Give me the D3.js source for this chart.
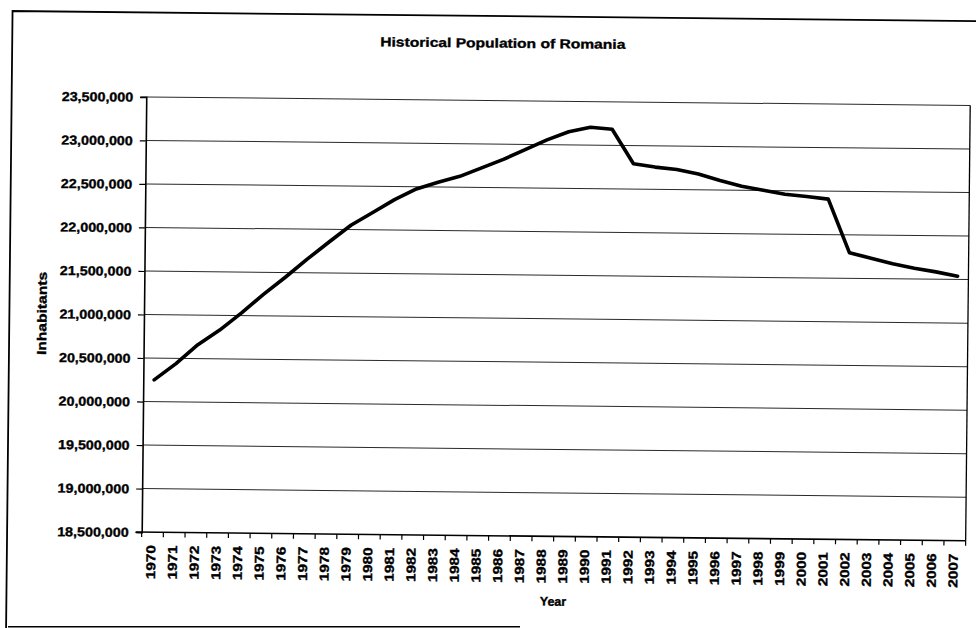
<!DOCTYPE html>
<html>
<head>
<meta charset="utf-8">
<title>Historical Population of Romania</title>
<script src="https://cdn.jsdelivr.net/npm/d3@7"></script>
<style>
  html, body { margin: 0; padding: 0; background: #fff; }
  svg { display: block; }
  text { font-family: "Liberation Sans", Arial, Helvetica, sans-serif; font-weight: bold; fill: #000; stroke: #000; stroke-width: 0.35px; }
</style>
</head>
<body>
<script>
// Category labels (years) along the x axis
const years = [
  "1970","1971","1972","1973","1974","1975","1976","1977","1978","1979",
  "1980","1981","1982","1983","1984","1985","1986","1987","1988","1989",
  "1990","1991","1992","1993","1994","1995","1996","1997","1998","1999",
  "2000","2001","2002","2003","2004","2005","2006","2007"
];

// Inhabitants per year
const population = [
  20250000, 20440000, 20660000, 20830000, 21030000, 21245000, 21445000, 21655000, 21855000, 22050000,
  22200000, 22350000, 22475000, 22555000, 22625000, 22725000, 22825000, 22940000, 23055000, 23150000,
  23205000, 23185000, 22790000, 22755000, 22730000, 22680000, 22608000, 22546000, 22503000, 22458000,
  22435000, 22408000, 21795000, 21735000, 21673000, 21624000, 21585000, 21538000
];

// Value-axis ticks
const yTicks = [18500000, 19000000, 19500000, 20000000, 20500000, 21000000, 21500000, 22000000, 22500000, 23000000, 23500000];

const chartTitle = "Historical Population of Romania";
const yTitle = "Inhabitants";
const xTitle = "Year";

const W = 976, H = 628;
const plot = { left: 144, right: 968, top: 100.5, bottom: 535.7 };

const svg = d3.select("body").append("svg")
  .attr("width", W).attr("height", H);

svg.append("rect").attr("width", W).attr("height", H).attr("fill", "#fff");

// The sheet sits slightly skewed on the page
const g = svg.append("g").attr("transform", "rotate(0.6, 488, 314)");

// Chart-area frame (left and top edges; the rest runs off the page)
g.append("path")
  .attr("d", `M9.4,700 L9.4,16 L1100,16`)
  .attr("fill", "none").attr("stroke", "#000").attr("stroke-width", 1.8);
svg.append("line")
  .attr("x1", 8).attr("x2", 520).attr("y1", 626.8).attr("y2", 626.8)
  .attr("stroke", "#000").attr("stroke-width", 1.6);

const x = d3.scaleBand().domain(years).range([plot.left, plot.right]).padding(0);
const y = d3.scaleLinear().domain([18500000, 23500000]).range([plot.bottom, plot.top]);

// Horizontal gridlines
g.append("g").selectAll("line")
  .data(yTicks.slice(1))
  .join("line")
  .attr("x1", plot.left).attr("x2", plot.right)
  .attr("y1", d => y(d)).attr("y2", d => y(d))
  .attr("stroke", "#2a2a2a").attr("stroke-width", 1);

// Plot-area right edge
g.append("line")
  .attr("x1", plot.right).attr("x2", plot.right)
  .attr("y1", plot.top).attr("y2", plot.bottom)
  .attr("stroke", "#000").attr("stroke-width", 1.3);

// Value axis
const yAxis = g.append("g")
  .attr("transform", `translate(${plot.left},0)`)
  .call(d3.axisLeft(y).tickValues(yTicks).tickFormat(d3.format(",")).tickSize(6).tickPadding(7));
yAxis.select(".domain").attr("stroke", "#000").attr("stroke-width", 1.6);
yAxis.selectAll(".tick line").attr("stroke", "#000").attr("stroke-width", 1.2);
yAxis.selectAll(".tick text")
  .style("font-size", "13px").style("font-family", null)
  .attr("fill", "#000")
  .attr("dy", "0.34em")
  .attr("transform", function () {
    const tx = +d3.select(this).attr("x");
    return `translate(${tx},0) scale(1.1,1) translate(${-tx},0)`;
  });

// Category axis: ticks sit on the category boundaries, labels at the centres
const xAxisG = g.append("g").attr("transform", `translate(0,${plot.bottom})`);
xAxisG.append("line")
  .attr("x1", plot.left - 6).attr("x2", plot.right)
  .attr("y1", 0).attr("y2", 0)
  .attr("stroke", "#000").attr("stroke-width", 1.6);
const bounds = years.map(d => x(d)).concat([x(years[years.length - 1]) + x.bandwidth()]);
xAxisG.selectAll("line.tk")
  .data(bounds)
  .join("line")
  .attr("class", "tk")
  .attr("x1", d => d).attr("x2", d => d)
  .attr("y1", 0).attr("y2", 5)
  .attr("stroke", "#000").attr("stroke-width", 1.2);
xAxisG.selectAll("text.lbl")
  .data(years)
  .join("text")
  .attr("class", "lbl")
  .attr("text-anchor", "end")
  .attr("transform", d => `translate(${x(d) + x.bandwidth() / 2 - 1.5},13) rotate(-90) scale(1.18,1)`)
  .attr("dy", "0.35em")
  .style("font-size", "13px")
  .text(d => d);

// Population line
const line = d3.line()
  .x((d, i) => x(years[i]) + x.bandwidth() / 2)
  .y(d => y(d));
g.append("path")
  .datum(population)
  .attr("d", line)
  .attr("fill", "none")
  .attr("stroke", "#000")
  .attr("stroke-width", 3.6)
  .attr("stroke-linejoin", "round")
  .attr("stroke-linecap", "round");

// Titles
g.append("text")
  .attr("transform", "translate(500,47.5) scale(1.2,1)")
  .attr("text-anchor", "middle")
  .style("font-size", "13px")
  .text(chartTitle);

g.append("text")
  .attr("transform", `translate(46.5,${(plot.top + plot.bottom) / 2}) rotate(-90) scale(1.2,1)`)
  .attr("text-anchor", "middle")
  .style("font-size", "13px")
  .text(yTitle);

g.append("text")
  .attr("transform", `translate(${(plot.left + plot.right) / 2},605)`)
  .attr("text-anchor", "middle")
  .style("font-size", "12.5px")
  .text(xTitle);
</script>
</body>
</html>
